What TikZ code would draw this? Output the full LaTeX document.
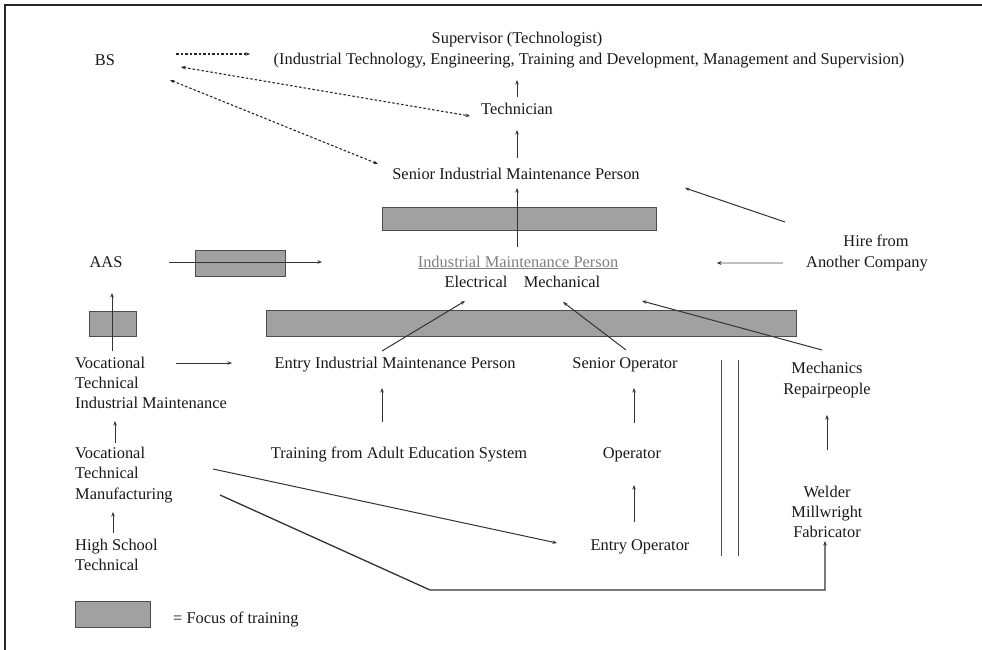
\documentclass[tikz,border=0pt]{standalone}
\usepackage{fontspec}
\setmainfont{Liberation Serif}
\usetikzlibrary{arrows.meta}
\begin{document}
\begin{tikzpicture}[x=1pt,y=-1pt,
  lbl/.style={inner sep=0pt,anchor=base,font=\fontsize{16.4}{19}\selectfont,text=black!90},
  lblw/.style={lbl,anchor=base west},
  focus/.style={draw=black!70,fill=black!37,line width=1pt},
  conn/.style={draw=black!80,line width=1pt,-{Stealth[length=4.5pt,width=3.5pt]}},
  plain/.style={draw=black!80,line width=1pt},
  dotline/.style={draw=black!85,line width=1.1pt,dash pattern=on 2.5pt off 2pt},
  dotconn/.style={dotline,{Stealth[length=4.5pt,width=3.5pt]}-{Stealth[length=4.5pt,width=3.5pt]}},
  dotone/.style={dotline,-{Stealth[length=4.5pt,width=3.5pt]}}
]
\useasboundingbox (0,0) rectangle (982,650);
\fill[white] (0,0) rectangle (982,650);
% frame
\draw[black!85,line width=1.5pt] (5,650) -- (5,5) -- (982,5);

% focus boxes
\node[focus,minimum width=274pt,minimum height=23pt,inner sep=0pt] (fbox1) at (519,218.5) {};
\node[focus,minimum width=90pt,minimum height=26pt,inner sep=0pt] (fbox2) at (240,263) {};
\node[focus,minimum width=47pt,minimum height=25pt,inner sep=0pt] (fbox3) at (112.5,323.5) {};
\node[focus,minimum width=530pt,minimum height=26pt,inner sep=0pt] (fbox4) at (531,323) {};
\node[focus,minimum width=75pt,minimum height=26pt,inner sep=0pt] (legbox) at (112.5,614) {};

% text nodes
\node[lbl] (bs) at (105,66) {BS};
\node[lbl] (sup1) at (517,44) {Supervisor (Technologist)};
\node[lbl] (sup2) at (589,65) {(Industrial Technology, Engineering, Training and Development, Management and Supervision)};
\node[lbl] (tech) at (517,115) {Technician};
\node[lbl] (simp) at (516,179) {Senior Industrial Maintenance Person};
\node[lbl] (hire1) at (876,246) {Hire from};
\node[lbl] (hire2) at (867,267) {Another Company};
\node[lbl,text=black!50] (imp) at (518,267) {\underline{Industrial Maintenance Person}};
\node[lbl] (elec) at (476,287) {Electrical};
\node[lbl] (mech) at (562,287) {Mechanical};
\node[lbl] (aas) at (106,267) {AAS};
\node[lblw] (vocA1) at (75,368) {Vocational};
\node[lblw] (vocA2) at (75,388) {Technical};
\node[lblw] (vocA3) at (75,408) {Industrial Maintenance};
\node[lbl] (entry) at (395,368) {Entry Industrial Maintenance Person};
\node[lbl] (senop) at (625,368) {Senior Operator};
\node[lbl] (mechs1) at (827,373) {Mechanics};
\node[lbl] (mechs2) at (827,394) {Repairpeople};
\node[lblw] (vocB1) at (75,458) {Vocational};
\node[lblw] (vocB2) at (75,478) {Technical};
\node[lblw] (vocB3) at (75,499) {Manufacturing};
\node[lbl] (train) at (399,458) {Training from Adult Education System};
\node[lbl] (op) at (632,458) {Operator};
\node[lbl] (weld1) at (827,497) {Welder};
\node[lbl] (weld2) at (827,517) {Millwright};
\node[lbl] (weld3) at (827,537) {Fabricator};
\node[lbl] (entop) at (640,550) {Entry Operator};
\node[lblw] (hs1) at (75,550) {High School};
\node[lblw] (hs2) at (75,570) {Technical};
\node[lblw] (legtxt) at (173,623) {= Focus of training};

% connector end points
\coordinate (p1s) at (517,97);  \coordinate (p1e) at (517,80);
\coordinate (p2s) at (517,158); \coordinate (p2e) at (517,130);
\coordinate (p3s) at (517,247); \coordinate (p3e) at (517,188);
\coordinate (p4s) at (785,222); \coordinate (p4e) at (685,188);
\coordinate (p5s) at (783,263); \coordinate (p5e) at (717,263);
\coordinate (p6s) at (169,262); \coordinate (p6e) at (322,262);
\coordinate (p7s) at (112,351); \coordinate (p7e) at (112,293);
\coordinate (p8s) at (382,351); \coordinate (p8e) at (465,301);
\coordinate (p9s) at (626,350); \coordinate (p9e) at (563,302);
\coordinate (p10s) at (822,350); \coordinate (p10e) at (642,301);
\coordinate (p11s) at (176,363); \coordinate (p11e) at (232,363);
\coordinate (p12s) at (827,450); \coordinate (p12e) at (827,415);
\coordinate (p13s) at (382,422); \coordinate (p13e) at (382,388);
\coordinate (p14s) at (634,423); \coordinate (p14e) at (634,388);
\coordinate (p15s) at (115,443); \coordinate (p15e) at (115,421);
\coordinate (p16s) at (634,522); \coordinate (p16e) at (634,485);
\coordinate (p17s) at (113,533); \coordinate (p17e) at (113,512);
\coordinate (p18s) at (213,469); \coordinate (p18e) at (557,543);
\coordinate (p19s) at (220,495); \coordinate (p19a) at (430,590);
\coordinate (p19b) at (825,590); \coordinate (p19e) at (825,541);
\coordinate (d1s) at (176,54);  \coordinate (d1e) at (250,54);
\coordinate (d2s) at (181,67);  \coordinate (d2e) at (470,116);
\coordinate (d3s) at (170,80);  \coordinate (d3e) at (378,164);
\coordinate (v1s) at (721,360); \coordinate (v1e) at (721,556);
\coordinate (v2s) at (738,360); \coordinate (v2e) at (738,556);

% connectors
\draw[conn] (p1s) -- (p1e);
\draw[conn] (p2s) -- (p2e);
\draw[conn] (p3s) -- (p3e);
\draw[conn] (p4s) -- (p4e);
\draw[conn,draw=black!25,line width=2pt,-{Stealth[length=4.5pt,width=4pt,black!80]}] (p5s) -- (p5e);
\draw[conn] (p6s) -- (p6e);
\draw[conn] (p7s) -- (p7e);
\draw[conn] (p8s) -- (p8e);
\draw[conn] (p9s) -- (p9e);
\draw[conn] (p10s) -- (p10e);
\draw[conn] (p11s) -- (p11e);
\draw[conn] (p12s) -- (p12e);
\draw[conn] (p13s) -- (p13e);
\draw[conn] (p14s) -- (p14e);
\draw[conn] (p15s) -- (p15e);
\draw[conn] (p16s) -- (p16e);
\draw[conn] (p17s) -- (p17e);
\draw[conn] (p18s) -- (p18e);
\draw[conn,line width=1.3pt] (p19s) -- (p19a) -- (p19b) -- (p19e);
\draw[dotone] (d1s) -- (d1e);
\draw[dotconn] (d2s) -- (d2e);
\draw[dotconn] (d3s) -- (d3e);
\draw[plain,black!70] (v1s) -- (v1e);
\draw[plain,black!70] (v2s) -- (v2e);
\end{tikzpicture}
\end{document}
